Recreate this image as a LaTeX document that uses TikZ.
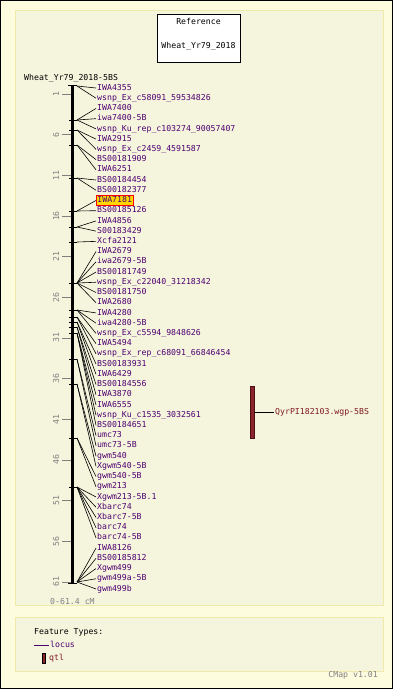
\documentclass[tikz,border=0pt]{standalone}
\usepackage{fontspec}
\setmainfont{DejaVu Sans Mono}
\definecolor{outerbg}{RGB}{253,252,222}
\definecolor{panelbg}{RGB}{245,245,222}
\definecolor{panelline}{RGB}{240,234,170}
\definecolor{loc}{RGB}{78,0,112}
\definecolor{qtlc}{RGB}{128,26,30}
\definecolor{qtlfill}{RGB}{140,36,44}
\definecolor{hlfill}{RGB}{255,215,0}
\definecolor{scalec}{RGB}{128,128,128}
\tikzset{
  txt/.style={font=\fontsize{8.2}{9}\selectfont, inner sep=0pt, text height=5.8pt, text depth=1.6pt},
  lbl/.style={txt, text=loc, anchor=west, inner xsep=1pt},
  hl/.style={fill=hlfill, draw=red, line width=0.8pt, inner ysep=1pt},
  conn/.style={draw=black, line width=0.6pt},
  mtick/.style={draw=black, line width=0.9pt},
  stick/.style={draw=scalec, line width=0.8pt},
  panel/.style={fill=panelbg, draw=panelline, line width=1pt}
}
\begin{document}
\begin{tikzpicture}[x=1pt,y=-1pt]
\useasboundingbox (0,0) rectangle (393,689);
\fill[outerbg] (0,0) rectangle (393,689);
\draw[black, line width=1pt] (0.5,0.5) rectangle (392.5,688.5);
% panels
\draw[panel] (15,10) rectangle (383,605);
\draw[panel] (15,617) rectangle (383,671);
% title box
\node[draw=black, fill=white, line width=0.8pt, minimum width=83pt, minimum height=48pt, inner sep=0pt] (title) at (198.5,38) {};
\node[txt] (t1) at (198.5,22) {Reference};
\node[txt] (t2) at (198.5,46) {Wheat\_Yr79\_2018};
% map name
\node[txt, anchor=west] (mapname) at (24,78) {Wheat\_Yr79\_2018-5BS};
% scale
\foreach \c in {1,6,...,61}{
  \pgfmathsetmacro\sy{94+(\c-1)*8.133}
  \draw[stick] (62,\sy) -- (72,\sy);
  \node[txt, text=scalec, rotate=90] (s\c) at (57,\sy) {\c};
}
% axis
\draw[black, line width=3pt] (72.5,85) -- (72.5,583);
\draw[mtick] (68,85) -- (77,85);
\draw[mtick] (68,583) -- (77,583);
\foreach \y in {120,130,145,178,211,227,242,283,310,317,322,327,333,359,384,438,487}{
  \draw[mtick] (69,\y) -- (77,\y);
}
% loci
\foreach \i/\my/\t in {
 1/86/IWA4355,
 2/86/wsnp\_Ex\_c58091\_59534826,
 3/120/IWA7400,
 4/120/iwa7400-5B,
 5/120/wsnp\_Ku\_rep\_c103274\_90057407,
 6/130/IWA2915,
 7/130/wsnp\_Ex\_c2459\_4591587,
 8/145/BS00181909,
 9/145/IWA6251,
 10/178/BS00184454,
 11/178/BS00182377,
 12/211/IWA7181,
 13/211/BS00185126,
 14/227/IWA4856,
 15/227/S00183429,
 16/242/Xcfa2121,
 17/283/IWA2679,
 18/283/iwa2679-5B,
 19/283/BS00181749,
 20/283/wsnp\_Ex\_c22040\_31218342,
 21/283/BS00181750,
 22/283/IWA2680,
 23/310/IWA4280,
 24/310/iwa4280-5B,
 25/310/wsnp\_Ex\_c5594\_9848626,
 26/317/IWA5494,
 27/317/wsnp\_Ex\_rep\_c68091\_66846454,
 28/322/BS00183931,
 29/322/IWA6429,
 30/327/BS00184556,
 31/327/IWA3870,
 32/333/IWA6555,
 33/333/wsnp\_Ku\_c1535\_3032561,
 34/333/BS00184651,
 35/359/umc73,
 36/359/umc73-5B,
 37/384/gwm540,
 38/384/Xgwm540-5B,
 39/438/gwm540-5B,
 40/438/gwm213,
 41/487/Xgwm213-5B.1,
 42/487/Xbarc74,
 43/487/Xbarc7-5B,
 44/487/barc74,
 45/487/barc74-5B,
 46/582/IWA8126,
 47/582/BS00185812,
 48/582/Xgwm499,
 49/582/gwm499a-5B,
 50/582/gwm499b}{
  \pgfmathsetmacro\ly{88+(\i-1)*10.224}
  \coordinate (m\i) at (77,\my);
  \ifnum\i=12
    \node[lbl, hl] (L\i) at (96,\ly) {\t};
  \else
    \node[lbl] (L\i) at (96,\ly) {\t};
  \fi
  \draw[conn] (m\i) -- (L\i.west);
}
\node[txt, text=scalec, anchor=west] (range) at (50,602) {0-61.4 cM};
% QTL
\node[draw=qtlc!60!black, fill=qtlfill, line width=0.6pt, minimum width=4pt, minimum height=52pt, inner sep=0pt] (qtl) at (252,412) {};
\node[lbl, text=qtlc] (qtllbl) at (274,412) {QyrPI182103.wgp-5BS};
\draw[conn] (qtl.east) -- (qtllbl.west);
% legend
\node[txt, anchor=west] (ft) at (34,632) {Feature Types:};
\coordinate (la) at (34,645);
\node[lbl] (loclbl) at (49,645) {locus};
\draw[loc, line width=0.8pt] (la) -- (loclbl.west);
\node[draw=black, fill=qtlfill, line width=0.6pt, minimum width=3.5pt, minimum height=10pt, inner sep=0pt] (qbox) at (44,658) {};
\node[lbl, text=qtlc] (qtlleg) at (48,658) {qtl};
\node[txt, text=scalec, anchor=east] (cmap) at (378,675) {CMap v1.01};
\end{tikzpicture}
\end{document}
